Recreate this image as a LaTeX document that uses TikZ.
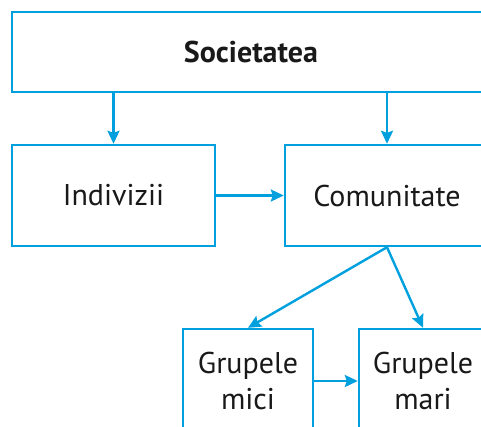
\documentclass[tikz,border=0pt]{standalone}
\usepackage{fontspec}
\setmainfont{PT Sans}
\usepackage{tikz}
\usetikzlibrary{arrows.meta, positioning}
\definecolor{schemablue}{RGB}{0,160,222}
\tikzstyle{arrow} = [line width=2.4pt, draw=schemablue, -{Stealth[length=13pt, width=12pt, inset=2pt]}]

\begin{document}
\begin{tikzpicture}[x=1pt, y=-1pt,
    box/.style={rectangle, draw=schemablue, line width=2.4pt, fill=white, font=\fontsize{30}{36}\selectfont, text=black!90, align=center, inner sep=0pt},
]
\useasboundingbox (0,0) rectangle (481,426);
\clip (0,0) rectangle (481,426);

% Boxes
\node[box, minimum width=478pt, minimum height=80pt, font=\fontsize{30}{36}\selectfont\bfseries] (soc) at (251, 52) {Societatea};
\node[box, minimum width=203pt, minimum height=101pt] (ind) at (113.5, 195.5) {Indivizii};
\node[box, minimum width=204pt, minimum height=101pt] (com) at (387, 195.5) {Comunitate};
\node[box, minimum width=130pt, minimum height=104pt] (mici) at (248, 381) {Grupele\\mici};
\node[box, minimum width=128pt, minimum height=104pt] (mari) at (423, 381) {Grupele\\mari};

% Connectors
\draw[arrow] (ind.north |- soc.south) -- (ind.north);
\draw[arrow] (com.north |- soc.south) -- (com.north);
\draw[arrow] (ind.east) -- (com.west);
\draw[arrow] (com.south) -- (mici.north);
\draw[arrow] (com.south) -- (mari.north);
\draw[arrow] (mici.east) -- (mari.west);

\end{tikzpicture}
\end{document}
